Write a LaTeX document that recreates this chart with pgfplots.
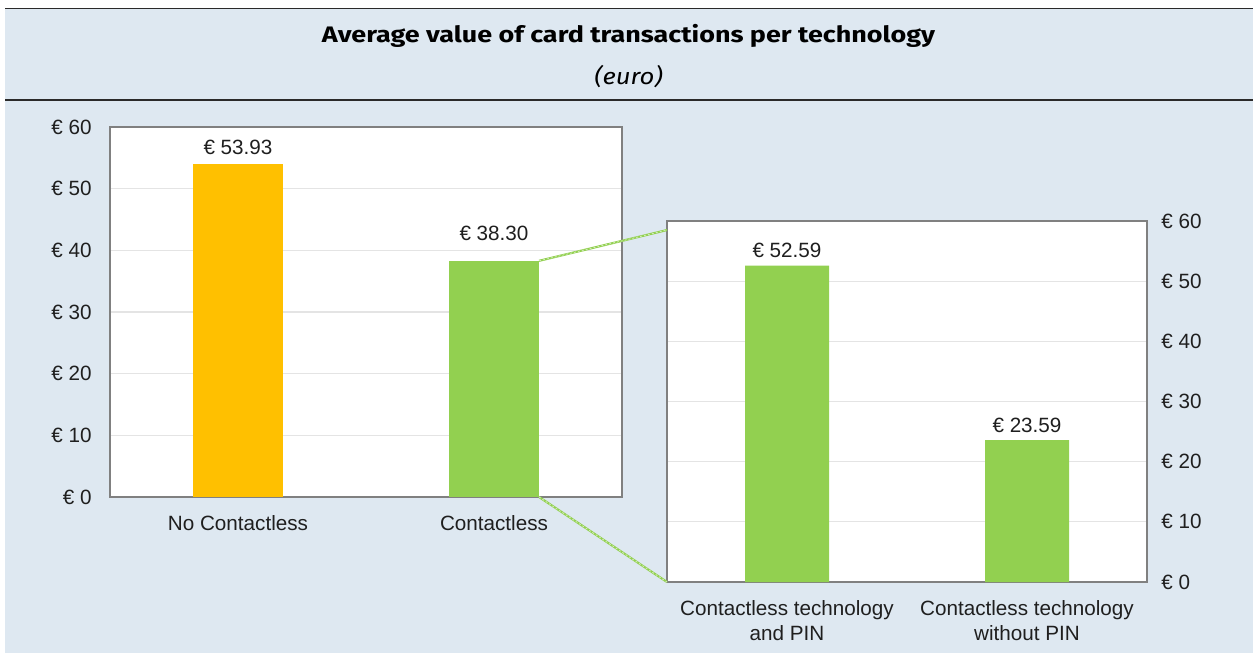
\documentclass[border=0pt]{standalone}
\usepackage{fontspec}
\setmainfont{Liberation Sans}
\newfontfamily\titlefont{Fira Sans}
\usepackage{pgfplots}
\pgfplotsset{compat=1.18}
\usepackage{pgfplotstable}
\definecolor{bgblue}{HTML}{DEE8F1}
\definecolor{barY}{HTML}{FFC000}
\definecolor{barG}{HTML}{92D050}
\definecolor{framec}{HTML}{808080}
\definecolor{gridc}{HTML}{E4E4E4}
\definecolor{rulec}{HTML}{2A2A2A}

\pgfplotstableread{
x y dy
0 53.93 5.7
}\tabNo
\pgfplotstableread{
x y dy
1 38.30 11.9
}\tabCl
\pgfplotstableread{
x y dy
0 52.59 4.9
1 23.59 4.5
}\tabRight

\pgfplotsset{
  eurobar/.style={
    scale only axis,
    clip=false,
    axis background/.style={fill=white},
    axis line style={framec, line width=0.7pt},
    ymin=0, ymax=60, ytick={0,10,...,60},
    ymajorgrids, major grid style={gridc, line width=0.7pt},
    major tick length=0pt,
    xmin=-0.5, xmax=1.5, xtick={0,1},
    tick label style={font=\fontsize{12.4}{15}\selectfont, text=black!88},
    /pgf/number format/assume math mode=true,
    yticklabel={€ \pgfmathprintnumber{\tick}},
    xticklabel style={anchor=north, inner sep=0pt, yshift=-11pt, align=center},
    ybar,
    point meta=y,
    visualization depends on={\thisrow{dy} \as \labdy},
    nodes near coords={€ \pgfmathprintnumber[fixed,fixed zerofill,precision=2]{\pgfplotspointmeta}},
    every node near coord/.append style={font=\fontsize{12.4}{15}\selectfont, text=black!88, anchor=base, inner sep=0pt, yshift=\labdy pt},
  }
}

\begin{document}
\begin{tikzpicture}
\useasboundingbox (0,0) rectangle (751.8pt,-391.8pt);
\fill[white] (0,0) rectangle (751.8pt,-391.8pt);
\fill[bgblue] (3pt,-5.1pt) rectangle (751.8pt,-391.8pt);
\draw[rulec, line width=0.9pt] (3pt,-5.1pt) -- (751.8pt,-5.1pt);
\draw[rulec, line width=1.2pt] (3pt,-60pt) -- (751.8pt,-60pt);
\node[anchor=base, inner sep=0pt] at (377.1pt,-25.2pt)
  {\resizebox{367.8pt}{10.9pt}{\titlefont\bfseries Average value of card transactions per technology}};
\node[inner sep=0pt] at (377.1pt,-46.2pt)
  {\resizebox*{41pt}{13.5pt}{\titlefont\itshape (euro)}};

\begin{axis}[eurobar,
  at={(66pt,-298.2pt)}, anchor=south west,
  width=307.2pt, height=222pt,
  xticklabels={No Contactless, Contactless},
  yticklabel style={anchor=east, inner sep=0pt, xshift=-10.8pt},
]
\addplot[fill=barY, draw=none, bar width=54pt, bar shift=0pt] table[x=x,y=y] {\tabNo};
\addplot[fill=barG, draw=none, bar width=54pt, bar shift=0pt] table[x=x,y=y] {\tabCl};
\coordinate (A) at (axis cs:1.176,38.3);
\coordinate (B) at (axis cs:1.176,0);
\end{axis}

\begin{axis}[eurobar,
  at={(400.2pt,-349.2pt)}, anchor=south west,
  width=288pt, height=216.6pt,
  xticklabels={{Contactless technology\\and PIN},{Contactless technology\\without PIN}},
  yticklabel pos=right,
  yticklabel style={anchor=west, inner sep=0pt, xshift=8.4pt},
]
\addplot[fill=barG, draw=none, bar width=50.4pt, bar shift=0pt] table[x=x,y=y] {\tabRight};
\coordinate (C) at (rel axis cs:0,0.975);
\coordinate (D) at (rel axis cs:0,0);
\end{axis}

\draw[barG, line width=1.3pt] (A) -- (C);
\draw[barG, line width=1.3pt] (B) -- (D);
\draw[white, opacity=0.6, line width=0.5pt, dash pattern=on 1.2pt off 1.2pt] (A) -- (C);
\draw[white, opacity=0.6, line width=0.5pt, dash pattern=on 1.2pt off 1.2pt] (B) -- (D);
\end{tikzpicture}
\end{document}
